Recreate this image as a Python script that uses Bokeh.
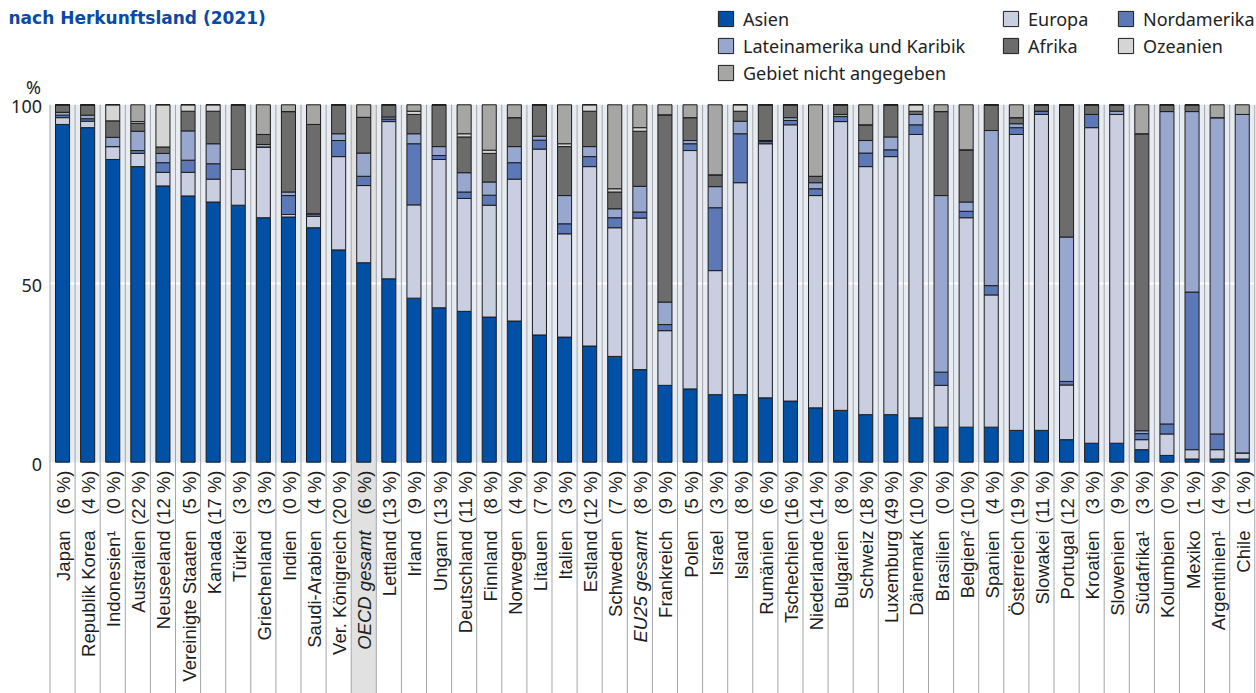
import math
from bokeh.plotting import figure
from bokeh.models import ColumnDataSource, Range1d, Legend, LegendItem, Label
from bokeh.core.properties import value
from bokeh.embed import file_html
from bokeh.resources import INLINE

# ---------------- data ----------------
countries = ["Japan", "Republik Korea", "Indonesien¹", "Australien", "Neuseeland",
             "Vereinigte Staaten", "Kanada", "Türkei", "Griechenland", "Indien",
             "Saudi-Arabien", "Ver. Königreich", "OECD gesamt", "Lettland", "Irland",
             "Ungarn", "Deutschland", "Finnland", "Norwegen", "Litauen", "Italien",
             "Estland", "Schweden", "EU25 gesamt", "Frankreich", "Polen", "Israel",
             "Island", "Rumänien", "Tschechien", "Niederlande", "Bulgarien", "Schweiz",
             "Luxemburg", "Dänemark", "Brasilien", "Belgien²", "Spanien", "Österreich",
             "Slowakei", "Portugal", "Kroatien", "Slowenien", "Südafrika¹", "Kolumbien",
             "Mexiko", "Argentinien¹", "Chile"]
share_pct = [6, 4, 0, 22, 12, 5, 17, 3, 3, 0, 4, 20, 6, 13, 9, 13, 11, 8, 4, 7, 3, 12, 7, 8,
             9, 5, 3, 8, 6, 16, 14, 8, 18, 49, 10, 0, 10, 4, 19, 11, 12, 3, 9, 3, 0, 1, 4, 1]

asien = [94.5, 93.6, 84.7, 82.7, 77.3, 74.5, 72.8, 71.9, 68.4, 68.6, 65.6, 59.4, 55.8, 51.3,
         45.9, 43.2, 42.2, 40.6, 39.5, 35.6, 35.0, 32.5, 29.6, 25.9, 21.5, 20.5, 18.9, 18.9,
         18.0, 17.1, 15.2, 14.5, 13.3, 13.3, 12.4, 9.8, 9.8, 9.8, 8.9, 8.9, 6.3, 5.3, 5.3,
         3.5, 1.9, 0.9, 0.9, 0.9]
europa = [1.9, 1.8, 3.6, 3.7, 3.8, 6.6, 6.4, 10.0, 19.8, 0.7, 3.2, 26.1, 21.6, 44.0, 26.1,
          41.5, 31.6, 31.3, 39.7, 52.0, 28.9, 50.2, 36.0, 42.4, 15.3, 66.7, 34.7, 59.3, 71.1,
          77.3, 59.4, 80.8, 69.4, 72.2, 79.3, 11.7, 58.6, 37.0, 82.8, 88.4, 15.3, 88.3, 92.0,
          2.8, 6.0, 2.6, 2.6, 1.7]
nordamerika = [0.7, 0.7, 0, 0.8, 2.7, 3.4, 4.3, 0, 0, 5.3, 0.7, 4.5, 2.6, 0.7, 17.1, 1.1,
               1.8, 2.8, 4.6, 2.5, 2.8, 2.8, 2.8, 1.7, 1.7, 1.9, 17.6, 13.7, 0.6, 1.2, 1.9,
               1.4, 3.8, 1.9, 2.7, 3.7, 1.8, 2.6, 1.9, 0.9, 1.0, 3.7, 0, 1.7, 2.8, 44.1, 4.4, 0]
lateinamerika = [0.8, 1.0, 2.6, 5.4, 2.6, 8.2, 5.6, 0, 0.7, 1.0, 0, 1.9, 6.5, 0.6, 2.8, 2.5,
                 5.4, 3.7, 4.5, 1.1, 7.9, 2.8, 2.5, 7.2, 6.3, 0.9, 5.9, 3.5, 0.3, 0.8, 1.7,
                 0.6, 3.5, 3.6, 2.9, 49.4, 2.6, 43.4, 1.1, 0, 40.4, 0, 0.9, 0.8, 87.4, 50.5,
                 88.5, 94.7]
afrika = [2.1, 2.9, 4.6, 2.2, 1.8, 5.5, 9.1, 18.1, 2.8, 22.5, 25.0, 8.1, 10.0, 3.4, 5.4,
          11.7, 10.0, 8.0, 8.1, 8.8, 13.7, 9.9, 4.7, 15.4, 52.4, 6.4, 3.3, 2.8, 10.0, 3.6,
          1.8, 2.7, 4.4, 9.0, 0.9, 23.5, 14.6, 7.2, 1.7, 1.8, 37.0, 2.7, 1.8, 83.1, 1.9,
          1.9, 0, 0]
ozeanien = [0, 0, 4.5, 0.5, 11.8, 1.8, 1.8, 0, 0, 0, 0, 0, 0, 0, 0.9, 0, 0.9, 0.9, 0, 0,
            0.8, 1.8, 0.9, 1.0, 0, 0, 0, 1.8, 0, 0, 0, 0, 0, 0, 1.8, 0, 0, 0, 0, 0, 0, 0,
            0, 0, 0, 0, 0, 0]
nicht_angegeben = [0, 0, 0, 4.7, 0, 0, 0, 0, 8.3, 1.9, 5.5, 0, 3.5, 0, 1.8, 0, 8.1, 12.7,
                   3.6, 0, 10.9, 0, 23.5, 6.4, 2.8, 3.6, 19.6, 0, 0, 0, 20.0, 0, 5.6, 0, 0,
                   1.9, 12.6, 0, 3.6, 0, 0, 0, 0, 8.1, 0, 0, 3.6, 2.7]

series_keys = ["asien", "europa", "nordamerika", "lateinamerika", "afrika", "ozeanien",
               "nicht_angegeben"]
series_labels = ["Asien", "Europa", "Nordamerika", "Lateinamerika und Karibik", "Afrika",
                 "Ozeanien", "Gebiet nicht angegeben"]
series_colors = ["#0050a6", "#c9cfe1", "#5c78b7", "#97a7cd", "#6c6c6c", "#d5d5d5", "#a6a6a5"]

highlight = "OECD gesamt"
italic_names = ["OECD gesamt", "EU25 gesamt"]
y_ticks = [0, 50, 100]
y_tick_labels = ["0", "50", "100"]

# ---------------- figure ----------------
n = len(countries)
W, H = 1256, 693
X0, X1 = -1.972, n + 0.068
Y0, Y1 = -64.72, 129.18
p = figure(width=W, height=H, x_range=Range1d(X0, X1), y_range=Range1d(Y0, Y1),
           output_backend="svg", toolbar_location=None, x_axis_location=None,
           y_axis_location=None, min_border=0, outline_line_color=None,
           background_fill_color="white", border_fill_color="white")
p.grid.visible = False

xs = [i + 0.5 for i in range(n)]
src = ColumnDataSource(dict(x=xs, asien=asien, europa=europa, nordamerika=nordamerika,
                            lateinamerika=lateinamerika, afrika=afrika, ozeanien=ozeanien,
                            nicht_angegeben=nicht_angegeben))

# plot-area background
p.quad(left=[0], right=[n], bottom=[0], top=[100], fill_color="#e7ebf2", line_color=None)
# highlighted OECD column
hi = countries.index(highlight)
p.quad(left=[hi], right=[hi + 1], bottom=[Y0], top=[100], fill_color="#e1e1e1",
       line_color=None)
# white grid line at 50
p.segment(x0=[0], y0=[50], x1=[n], y1=[50], line_color="white", line_width=2)
# category separators
bounds = list(range(n + 1))
p.segment(x0=bounds, y0=[Y0] * len(bounds), x1=bounds, y1=[100] * len(bounds),
          line_color="#a3a5a9", line_width=1)

renderers = p.vbar_stack(series_keys, x="x", width=0.56, source=src,
                         fill_color=series_colors, line_color="#1c1c1c", line_width=1)

# ---------------- y tick labels ----------------
p.text(x=[0] * len(y_ticks), y=y_ticks, text=y_tick_labels, x_offset=-8, y_offset=2,
       text_align="right", text_baseline="middle", text_font=value("Noto Sans"),
       text_font_size="18px", text_color="#222222")
p.text(x=[0], y=[100], text=["%"], x_offset=-9, y_offset=-18, text_align="right",
       text_baseline="alphabetic", text_font=value("Noto Sans"), text_font_size="18px",
       text_color="#222222")

# ---------------- category labels ----------------
def label_source(names):
    idx = [countries.index(c) for c in names]
    return ColumnDataSource(dict(x=[xs[i] for i in idx],
                                 y=[0] * len(idx),
                                 name=[countries[i] for i in idx],
                                 pct=["(%d %%)" % share_pct[i] for i in idx]))

normal = [c for c in countries if c not in italic_names]
lab_common = dict(angle=math.pi / 2, text_align="right", text_baseline="middle",
                  x_offset=1, text_font=value("Liberation Sans"), text_font_size="18.5px",
                  text_color="#1e1e1e")
for names, style in ((normal, "normal"), (italic_names, "italic")):
    s = label_source(names)
    p.text(x="x", y="y", text="pct", y_offset=8.3, source=s, **lab_common)
    p.text(x="x", y="y", text="name", y_offset=68.3, source=s, text_font_style=style,
           **lab_common)

# ---------------- title ----------------
p.add_layout(Label(x=8, y=H - 17.5, x_units="screen", y_units="screen",
                   text="nach Herkunftsland (2021)", text_align="left",
                   text_baseline="alphabetic", text_font="DejaVu Sans",
                   text_font_style="bold", text_font_size="17px", text_color="#0a4aa6"))

# ---------------- legends ----------------
leg_common = dict(padding=0, margin=0, spacing=3, glyph_width=19, glyph_height=19,
                  label_standoff=8, label_height=24, label_text_font="Noto Sans",
                  label_text_font_size="18px", label_text_color="#222222",
                  background_fill_alpha=0, border_line_color=None)

def items(idx_list):
    return [LegendItem(label=value(series_labels[i]), renderers=[renderers[i]])
            for i in idx_list]

p.add_layout(Legend(items=items([0, 3, 6]), location=(716, H - 84.5), **leg_common))
p.add_layout(Legend(items=items([1, 4]), location=(1001, H - 57.5), **leg_common))
p.add_layout(Legend(items=items([2, 5]), location=(1116, H - 57.5), **leg_common))

open("out.html", "w").write(file_html(p, INLINE))
